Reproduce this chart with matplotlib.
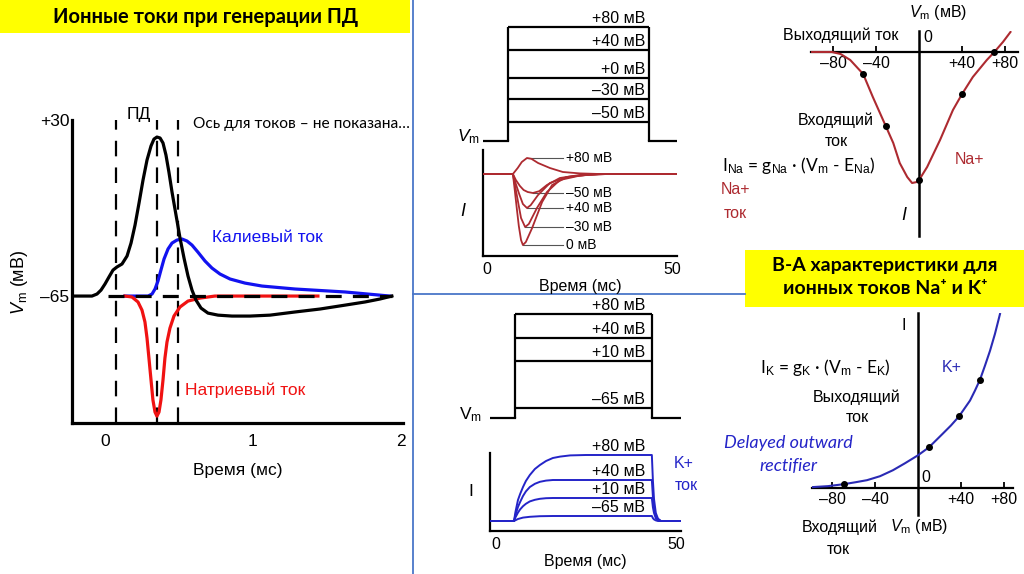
import numpy as np
import matplotlib
matplotlib.use("Agg")
import matplotlib.pyplot as plt

# ======================= DATA =======================
# --- Left panel: action potential (ms, mV) and ionic currents (same scale) ---
ap_t = [-0.223, -0.088, -0.054, -0.027, 0.0, 0.027, 0.054, 0.081, 0.115, 0.149, 0.176,
        0.203, 0.230, 0.257, 0.284, 0.311, 0.331, 0.351, 0.372, 0.392, 0.412, 0.432,
        0.453, 0.480, 0.507, 0.534, 0.561, 0.588, 0.615, 0.649, 0.696, 0.764, 0.858,
        0.980, 1.115, 1.284, 1.453, 1.622, 1.757, 1.858, 1.939]
ap_v = [-65, -65, -63.9, -61.8, -58.5, -54.7, -51.0, -49.3, -47.7, -43.4, -36.4,
        -26.7, -14.8, -2.4, 8.4, 16.0, 19.7, 20.8, 20.3, 17.6, 11.1, 1.9,
        -8.9, -21.3, -33.7, -44.5, -54.2, -61.8, -67.2, -71.5, -74.2, -75.3, -75.8,
        -75.8, -75.3, -73.6, -72.0, -69.9, -68.2, -66.6, -65]
ik_t = [0.135, 0.291, 0.318, 0.338, 0.358, 0.378, 0.399, 0.426, 0.453, 0.486, 0.520,
        0.554, 0.588, 0.628, 0.676, 0.723, 0.777, 0.845, 0.946, 1.061, 1.284, 1.622, 1.926]
ik_v = [-65, -65, -63.9, -61.2, -56.9, -51.0, -45.0, -39.6, -36.4, -34.8, -34.2,
        -35.3, -37.5, -41.3, -46.1, -49.9, -53.1, -55.8, -58.0, -59.6, -61.2, -62.8, -65]
ina_t = [0.135, 0.182, 0.223, 0.250, 0.270, 0.284, 0.297, 0.311, 0.324, 0.338, 0.351,
         0.365, 0.378, 0.392, 0.405, 0.419, 0.439, 0.466, 0.507, 0.561, 0.642, 0.743, 1.439]
ina_v = [-65, -65.5, -68.2, -72.6, -79.0, -87.7, -98.5, -110.3, -121.1, -127.6, -129.8,
         -127.6, -121.1, -110.3, -98.5, -89.8, -82.3, -75.8, -70.9, -67.7, -66.1, -65, -65]
rest_v = -65
rest_span_t = [0.02, 1.94]
pd_marks_t = [0.074, 0.351, 0.493]
left_xticks = [0, 1, 2]
left_yticks = [30, -65]
left_yticklabels = ["+30", "–65"]

# --- Middle top: Na+ voltage clamp ---
na_step_labels = ["+80 мВ", "+40 мВ", "+0 мВ", "–30 мВ", "–50 мВ"]
na_step_heights = [114, 91, 63, 42, 19]          # displayed step height (a.u.)
na_step_on, na_step_off, na_t_end, na_t_start = 5.7, 43.8, 51.35, -1.08
na_trace_labels = ["+80 мВ", "–50 мВ", "+40 мВ", "–30 мВ", "0 мВ"]
na_trace_t = [
    [-1.1, 7.0, 8.3, 9.4, 10.8, 12.0, 13.8, 17.0, 20.5, 25.1, 30.5, 51.4],
    [-1.1, 7.0, 7.8, 8.9, 9.9, 11.0, 12.4, 14.1, 16.2, 19.7, 25.1, 30.5, 51.4],
    [-1.1, 7.0, 7.8, 8.7, 9.7, 10.8, 11.8, 13.8, 17.0, 21.6, 27.2, 32.5, 51.4],
    [-1.1, 7.0, 7.6, 8.4, 9.2, 10.3, 11.3, 13.5, 16.2, 19.7, 25.1, 30.5, 51.4],
    [-1.1, 7.0, 7.5, 8.1, 8.6, 9.2, 9.7, 10.5, 12.2, 14.9, 17.6, 21.6, 27.2, 32.5, 51.4],
]
na_trace_i = [
    [0, 0, 1.5, 3.0, 4.0, 3.8, 2.75, 1.5, 0.5, 0.15, 0, 0],
    [0, 0, -1.5, -3.0, -4.0, -4.5, -4.75, -4.3, -2.75, -1.0, -0.25, 0, 0],
    [0, 0, -2.5, -5.0, -7.5, -8.5, -7.8, -5.25, -2.25, -0.75, -0.2, 0, 0],
    [0, 0, -3.0, -7.0, -11.0, -13.25, -12.5, -8.5, -4.5, -1.5, -0.4, 0, 0],
    [0, 0, -4.0, -9.0, -13.0, -16.5, -17.75, -17.0, -13.5, -7.0, -2.75, -0.75, -0.2, 0, 0],
]
na_xticks = [0, 50]

# --- Middle bottom: K+ voltage clamp ---
k_step_labels = ["+80 мВ", "+40 мВ", "+10 мВ", "–65 мВ"]
k_step_heights = [104, 80, 57, 10]
k_step_on, k_step_off, k_t_end, k_t_start = 5.3, 43.3, 51.4, -1.67
k_trace_labels = ["+80 мВ", "+40 мВ", "+10 мВ", "–65 мВ"]
k_trace_t = [
    [-1.7, 5.0, 5.4, 6.1, 6.7, 7.5, 8.3, 9.4, 10.8, 12.2, 13.9, 15.8, 17.8, 20.6, 25.0,
     43.3, 43.6, 43.9, 44.4, 45.0, 45.8, 51.4],
    [-1.7, 5.0, 5.4, 6.1, 6.7, 7.5, 8.3, 9.4, 10.8, 12.2, 13.9, 15.8,
     43.3, 43.6, 43.9, 44.4, 45.0, 45.8, 51.4],
    [-1.7, 5.0, 5.4, 6.1, 6.7, 7.5, 8.3, 9.4, 10.8, 12.2, 13.9, 15.8,
     43.3, 43.6, 43.9, 44.4, 45.0, 45.8, 51.4],
    [-1.7, 5.0, 6.1, 7.5, 9.4, 12.2, 15.8, 43.3, 43.6, 43.9, 44.4, 45.0, 51.4],
]
k_trace_i = [
    [0, 0, 2.25, 5.25, 6.75, 8.5, 10.0, 11.5, 13.0, 14.0, 15.0, 15.75, 16.1, 16.4, 16.5,
     16.5, 10.0, 5.5, 2.0, 0.6, 0, 0],
    [0, 0, 1.5, 3.5, 4.75, 6.25, 7.4, 8.5, 9.3, 9.8, 10.1, 10.25,
     10.25, 6.0, 3.5, 1.2, 0.4, 0, 0],
    [0, 0, 0.9, 2.1, 2.9, 3.7, 4.3, 4.9, 5.3, 5.55, 5.7, 5.75,
     5.75, 3.4, 2.0, 0.7, 0.2, 0, 0],
    [0, 0, 0.5, 0.85, 1.05, 1.2, 1.25, 1.25, 0.7, 0.4, 0.15, 0, 0],
]
k_xticks = [0, 50]

# --- Right top: Na+ I-V ---
na_iv_v = [-99.5, -81, -73, -64, -52, -43, -31, -24, -18, -11, -6.5, -2, 0, 7.5, 19.5,
           31.5, 40, 50, 63, 70, 78, 85]
na_iv_i = [0, 0, -2, -8, -22, -45, -74, -91, -111, -125, -131, -130, -128, -115, -88,
           -58, -42, -25, -8, 0, 10, 20]
na_iv_dot_v = [-52, -31, 0, 40, 70]
na_iv_dot_i = [-22, -74, -128, -42, 0]

# --- Right bottom: K+ I-V ---
k_iv_v = [-98.6, -83.7, -68.8, -57.7, -47.4, -35.3, -23.3, -12.1, 0, 10.2, 23.3, 30.7,
          38.1, 48.4, 53.0, 57.7, 62.3, 67, 71.6, 76.3]
k_iv_i = [1, 2, 4, 6, 8, 12, 18, 25, 33, 41, 55, 63, 72, 88, 98, 109, 123, 138, 155, 175]
k_iv_dot_v = [-68.8, 10.2, 38.1, 57.7]
k_iv_dot_i = [4, 41, 72, 109]

iv_xticks = [-80, -40, 40, 80]
iv_xticklabels = ["–80", "–40", "+40", "+80"]

# ======================= STYLE =======================
W, H = 1024, 574
ARIAL = "Liberation Sans"
CALIBRI = ["Lato", "DejaVu Sans"]
plt.rcParams['font.family'] = [ARIAL, "DejaVu Sans"]
plt.rcParams['mathtext.fontset'] = 'custom'
plt.rcParams['mathtext.rm'] = ARIAL
plt.rcParams['mathtext.it'] = ARIAL + ':italic'

NA_RED = "#ad2a30"
K_BLUE = "#2424c8"
IV_BLUE = "#2a2ab4"
BLUE = "#1212f0"
RED = "#f01212"
SEP = "#4a76c8"
YEL = "#ffff00"
FS = 11.5

fig = plt.figure(figsize=(W / 100, H / 100), dpi=100)

ov = fig.add_axes([0, 0, 1, 1])
ov.set_xlim(0, W)
ov.set_ylim(H, 0)
ov.axis('off')


def px_axes(x0, y0, x1, y1):
    ax = fig.add_axes([x0 / W, 1 - y1 / H, (x1 - x0) / W, (y1 - y0) / H])
    ax.patch.set_alpha(0)
    return ax


def T(x, y, s, **kw):
    kw.setdefault('ha', 'center')
    kw.setdefault('va', 'center')
    kw.setdefault('fontsize', FS)
    return ov.text(x, y, s, **kw)


# boxes & separators
ov.add_patch(plt.Rectangle((0, 0), 410, 33, color=YEL, lw=0))
ov.add_patch(plt.Rectangle((745, 250), 279, 57, color=YEL, lw=0))
ov.plot([413, 413], [0, H], color=SEP, lw=1.3)
ov.plot([413, 745], [294, 294], color=SEP, lw=1.3)

T(206, 17, "Ионные токи при генерации ПД", family=CALIBRI, fontweight='bold', fontsize=14.5)
T(885, 266, "В-А характеристики для", family=CALIBRI, fontweight='bold', fontsize=14)
T(885, 289, "ионных токов Na⁺ и K⁺", family=CALIBRI, fontweight='bold', fontsize=14)

# ---------------- Left panel ----------------
axL = px_axes(72, 120, 403, 423)
axL.set_xlim(-0.223, 2.014)
axL.set_ylim(-133.5, 30)
for s in ['top', 'right']:
    axL.spines[s].set_visible(False)
for s in ['left', 'bottom']:
    axL.spines[s].set_linewidth(2.3)
axL.set_xticks(left_xticks)
axL.set_yticks(left_yticks)
axL.set_yticklabels(left_yticklabels)
axL.tick_params(length=0, labelsize=12.5)
axL.tick_params(axis='x', pad=8)
axL.tick_params(axis='y', pad=2)
axL.set_xlabel("Время (мс)", fontsize=12.5, labelpad=10)
axL.vlines(pd_marks_t, -133.5, 30.5, colors='k', lw=1.6, linestyles=(0, (7, 5)))
axL.plot(ik_t, ik_v, color=BLUE, lw=2.3, zorder=3)
axL.plot(ina_t, ina_v, color=RED, lw=2.3, zorder=3)
axL.plot(rest_span_t, [rest_v, rest_v], color='k', lw=2.3, dashes=(5, 3.5), zorder=4)
axL.plot(ap_t, ap_v, color='k', lw=2.3, zorder=5)

T(19, 282, r"$V_{\mathrm{m}}$ (мВ)", rotation=90, fontsize=13)
T(139, 114, "ПД", fontsize=12.5)
T(193, 124, "Ось для токов – не показана…", ha='left', family=CALIBRI, fontsize=11.2)
T(212, 238, "Калиевый ток", ha='left', color=BLUE, fontsize=12.5)
T(185, 390, "Натриевый ток", ha='left', color=RED, fontsize=12.5)

# ---------------- Middle top: Na voltage clamp ----------------
axNV = px_axes(483, 10, 677, 145)
axNV.set_xlim(na_t_start, na_t_end)
axNV.set_ylim(-4, 131)
axNV.axis('off')
axNV.plot([na_t_start, na_step_on], [0, 0], color='k', lw=1.6)
axNV.plot([na_step_off, na_t_end], [0, 0], color='k', lw=1.6)
axNV.vlines([na_step_on, na_step_off], 0, max(na_step_heights), colors='k', lw=1.6)
axNV.hlines(na_step_heights, na_step_on, na_step_off, colors='k', lw=1.6)
for lab, h in zip(na_step_labels, na_step_heights):
    axNV.annotate(lab, (42.7, h), xytext=(0, 0.5), textcoords='offset points',
                  ha='right', va='bottom', fontsize=FS)
T(480, 137, r"$V_{\mathrm{m}}$", ha='right', fontsize=12.5)

axNI = px_axes(483, 150, 677, 256)
axNI.set_xlim(na_t_start, na_t_end)
axNI.set_ylim(-20.5, 6)
for s in ['top', 'right']:
    axNI.spines[s].set_visible(False)
for s in ['left', 'bottom']:
    axNI.spines[s].set_linewidth(1.6)
axNI.set_yticks([])
axNI.set_xticks(na_xticks)
axNI.tick_params(length=0, labelsize=FS, pad=4)
axNI.set_xlabel("Время (мс)", fontsize=FS, labelpad=2)
for tt, ii, lab in zip(na_trace_t, na_trace_i, na_trace_labels):
    axNI.plot(tt, ii, color=NA_RED, lw=1.3, zorder=3)
    ii = np.asarray(ii)
    k = int(np.argmax(np.abs(ii)))
    axNI.plot([tt[k], 20.5], [ii[k], ii[k]], color='#555555', lw=0.8, zorder=2)
    axNI.text(21.4, ii[k], lab, ha='left', va='center', fontsize=10)
T(463, 212, r"$I$", fontsize=13)
T(735, 190, "Na+", color=NA_RED, fontsize=FS)
T(735, 213, "ток", color=NA_RED, fontsize=FS)

# ---------------- Middle bottom: K voltage clamp ----------------
axKV = px_axes(490, 290, 681, 425)
axKV.set_xlim(k_t_start, k_t_end)
axKV.set_ylim(-7, 128)
axKV.axis('off')
axKV.plot([k_t_start, k_step_on], [0, 0], color='k', lw=1.6)
axKV.plot([k_step_off, k_t_end], [0, 0], color='k', lw=1.6)
axKV.vlines([k_step_on, k_step_off], 0, max(k_step_heights), colors='k', lw=1.6)
axKV.hlines(k_step_heights, k_step_on, k_step_off, colors='k', lw=1.6)
for lab, h in zip(k_step_labels, k_step_heights):
    axKV.annotate(lab, (41.4, h), xytext=(0, 0.5), textcoords='offset points',
                  ha='right', va='bottom', fontsize=FS)
T(482, 415, r"$\mathrm{V}_{\mathrm{m}}$", ha='right', fontsize=12.5)

axKI = px_axes(490, 453, 681, 531)
axKI.set_xlim(k_t_start, k_t_end)
axKI.set_ylim(-2.5, 17)
for s in ['top', 'right']:
    axKI.spines[s].set_visible(False)
for s in ['left', 'bottom']:
    axKI.spines[s].set_linewidth(1.6)
axKI.set_yticks([])
axKI.set_xticks(k_xticks)
axKI.tick_params(length=0, labelsize=FS, pad=4)
axKI.set_xlabel("Время (мс)", fontsize=FS, labelpad=2)
for tt, ii, lab in zip(k_trace_t, k_trace_i, k_trace_labels):
    axKI.plot(tt, ii, color=K_BLUE, lw=1.4, zorder=3)
    axKI.annotate(lab, (41.4, max(ii)), xytext=(0, 0.5), textcoords='offset points',
                  ha='right', va='bottom', fontsize=FS, annotation_clip=False)
T(471, 492, "I", fontsize=12.5)
T(684, 463, "K+", color=K_BLUE, fontsize=FS)
T(686, 486, "ток", color=K_BLUE, fontsize=FS)


# ---------------- Right: I-V curves ----------------
def iv_axes(box, xlim, ylim):
    ax = px_axes(*box)
    ax.set_xlim(*xlim)
    ax.set_ylim(*ylim)
    for s in ['top', 'right']:
        ax.spines[s].set_visible(False)
    ax.spines['left'].set_position(('data', 0))
    ax.spines['bottom'].set_position(('data', 0))
    ax.spines['left'].set_linewidth(1.8)
    ax.spines['bottom'].set_linewidth(1.6)
    ax.set_yticks([])
    ax.set_xticks(iv_xticks)
    ax.set_xticklabels(iv_xticklabels)
    ax.tick_params(axis='x', direction='in', length=4, width=1.3, labelsize=FS, pad=3)
    return ax


axNa = iv_axes((811, 31, 1018, 236), (-100.5, 92), (-184, 21))
axNa.plot(na_iv_v, na_iv_i, color=NA_RED, lw=1.5, zorder=3)
axNa.plot(na_iv_dot_v, na_iv_dot_i, 'o', color='k', ms=4, zorder=4)
T(938, 12, r"$V_{\mathrm{m}}$ (мВ)")
T(841, 35, "Выходящий ток")
T(928, 38, "0")
T(836, 120, "Входящий")
T(836, 141, "ток")
T(904, 216, r"$I$", fontsize=13)
T(969, 159, "Na+", color=NA_RED)
T(799, 165, r"I$_{\mathrm{Na}}$ = g$_{\mathrm{Na}}$ · (V$_{\mathrm{m}}$ - E$_{\mathrm{Na}}$)",
  family=CALIBRI, fontsize=12.5)

axK = iv_axes((812, 313, 1013, 515), (-98.6, 88.4), (-27, 176))
axK.plot(k_iv_v, k_iv_i, color=IV_BLUE, lw=1.5, zorder=3)
axK.plot(k_iv_dot_v, k_iv_dot_i, 'o', color='k', ms=4, zorder=4)
T(904, 325, "I")
T(926, 477, "0")
T(952, 367, "K+", color=IV_BLUE)
T(825, 368, r"I$_{\mathrm{K}}$ = g$_{\mathrm{K}}$ · (V$_{\mathrm{m}}$ - E$_{\mathrm{K}}$)",
  family=CALIBRI, fontsize=12.5)
T(857, 397, "Выходящий")
T(857, 418, "ток")
T(788, 443, "Delayed outward", family=CALIBRI, style='italic', color=K_BLUE, fontsize=13)
T(788, 466, "rectifier", family=CALIBRI, style='italic', color=K_BLUE, fontsize=13)
T(840, 527, "Входящий")
T(838, 549, "ток")
T(919, 527, r"$V_{\mathrm{m}}$ (мВ)")

fig.savefig("out.png", dpi=100)
